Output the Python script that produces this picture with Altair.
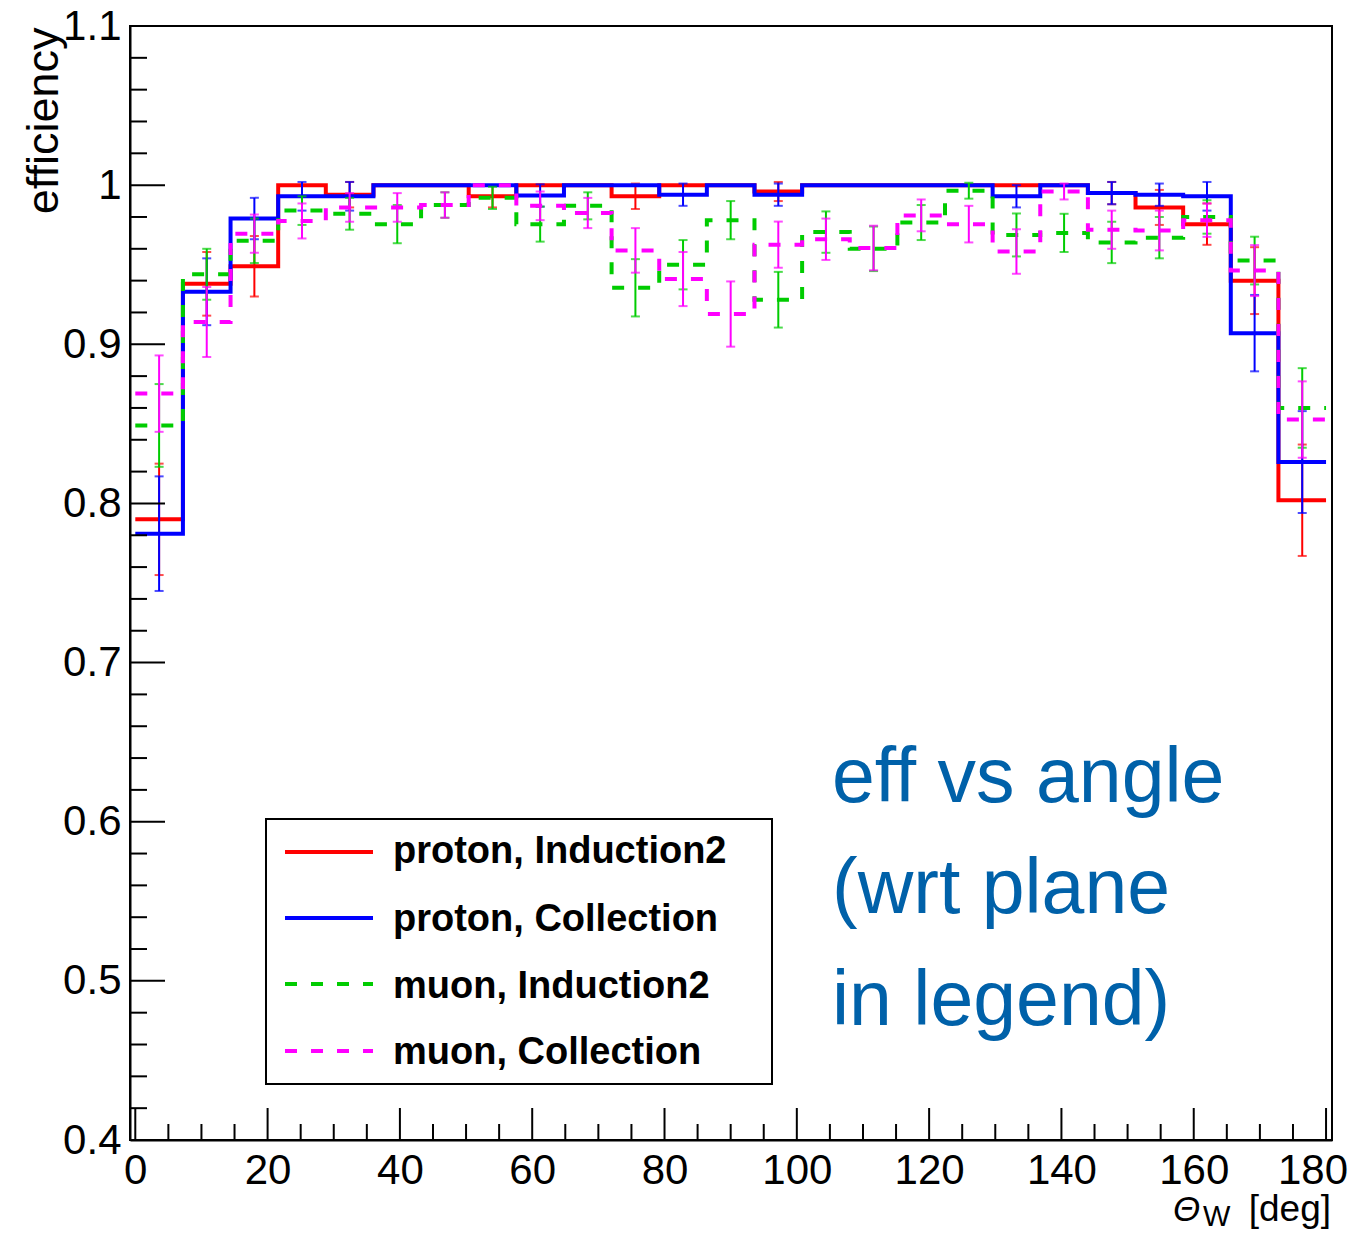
import altair as alt
import numpy as np
import pandas as pd

# ---------------- data ----------------
theta_edges = list(np.linspace(0.0, 180.0, 26))   # 25 bins of 7.2 deg

series_names = ["proton, Induction2", "proton, Collection",
                "muon, Induction2", "muon, Collection"]
series_colors = ["#FF0000", "#0000FF", "#00CC00", "#FF00FF"]

proton_ind2_eff = [0.790, 0.938, 0.949, 1.000, 0.994, 1.000, 1.000, 0.993, 1.000, 1.000,
                   0.993, 1.000, 1.000, 0.996, 1.000, 1.000, 1.000, 1.000, 1.000, 1.000,
                   0.995, 0.986, 0.9755, 0.940, 0.802]
proton_ind2_err = [0.035, 0.020, 0.019, 0.0, 0.008, 0.0, 0.0, 0.007, 0.0, 0.0,
                   0.008, 0.0, 0.0, 0.006, 0.0, 0.0, 0.0, 0.0, 0.0, 0.0,
                   0.007, 0.011, 0.013, 0.021, 0.035]

proton_col_eff = [0.781, 0.933, 0.979, 0.993, 0.993, 1.000, 1.000, 1.000, 0.9935, 1.000,
                  1.000, 0.994, 1.000, 0.994, 1.000, 1.000, 1.000, 1.000, 0.993, 1.000,
                  0.995, 0.994, 0.993, 0.907, 0.826]
proton_col_err = [0.036, 0.021, 0.013, 0.009, 0.009, 0.0, 0.0, 0.0, 0.007, 0.0,
                  0.0, 0.007, 0.0, 0.007, 0.0, 0.0, 0.0, 0.0, 0.007, 0.0,
                  0.007, 0.007, 0.009, 0.024, 0.032]

muon_ind2_eff = [0.849, 0.944, 0.965, 0.984, 0.982, 0.9755, 0.9875, 0.992, 0.9755, 0.987,
                 0.9355, 0.950, 0.978, 0.928, 0.9705, 0.960, 0.9765, 0.9965, 0.9687, 0.970,
                 0.964, 0.967, 0.980, 0.9526, 0.860]
muon_ind2_err = [0.026, 0.016, 0.014, 0.009, 0.010, 0.012, 0.008, 0.007, 0.011, 0.0085,
                 0.018, 0.0155, 0.012, 0.0175, 0.013, 0.014, 0.011, 0.005, 0.0135, 0.012,
                 0.013, 0.013, 0.0105, 0.015, 0.025]

muon_col_eff = [0.869, 0.914, 0.9695, 0.9775, 0.986, 0.986, 0.9875, 1.000, 0.987, 0.9825,
                0.959, 0.941, 0.919, 0.9626, 0.966, 0.9605, 0.981, 0.9755, 0.9583, 0.996,
                0.972, 0.9715, 0.978, 0.9463, 0.8527]
muon_col_err = [0.024, 0.022, 0.012, 0.011, 0.009, 0.009, 0.008, 0.0, 0.009, 0.0095,
                0.014, 0.017, 0.0205, 0.0145, 0.013, 0.014, 0.010, 0.0115, 0.014, 0.005,
                0.012, 0.0125, 0.0105, 0.016, 0.024]

series_eff = [proton_ind2_eff, proton_col_eff, muon_ind2_eff, muon_col_eff]
series_err = [proton_ind2_err, proton_col_err, muon_ind2_err, muon_col_err]
series_dash = [None, None, [12, 14], [12, 14]]

x_tick_labels = [0, 20, 40, 60, 80, 100, 120, 140, 160, 180]
y_tick_labels = [0.4, 0.5, 0.6, 0.7, 0.8, 0.9, 1.0, 1.1]

annotation_lines = ["eff vs angle", "(wrt plane", "in legend)"]

# ---------------- layout constants ----------------
W, H = 1202, 1114
FONT = "Liberation Sans"

x_scale = alt.Scale(domain=[-0.8, 180.9], nice=False, zero=False)
y_scale = alt.Scale(domain=[0.4, 1.1], nice=False, zero=False)

x_axis = alt.Axis(values=x_tick_labels[:-1], format="d", ticks=False, tickSize=0,
                  labelFlush=False, labelFontSize=42, labelPadding=10,
                  labelFont=FONT, labelColor="black", grid=False, title=None,
                  domainColor="black", domainWidth=2, labelOverlap=False)
y_axis = alt.Axis(values=y_tick_labels, format="~g", ticks=False, tickSize=0,
                  labelFontSize=42, labelPadding=9, labelFont=FONT,
                  labelColor="black", grid=False, title="efficiency",
                  titleFont=FONT, titleFontSize=45, titleFontWeight="normal",
                  titleColor="black", titleAngle=270, titleAlign="right",
                  titleBaseline="alphabetic", titleX=-73, titleY=1,
                  domainColor="black", domainWidth=2, labelOverlap=False)

layers = []
centers = [(theta_edges[i] + theta_edges[i + 1]) / 2 for i in range(25)]

for name, color, effs, errs, dash in zip(series_names, series_colors,
                                         series_eff, series_err, series_dash):
    step_rows = []
    for i, v in enumerate(effs):
        step_rows.append({"x": theta_edges[i], "y": v, "o": 2 * i})
        step_rows.append({"x": theta_edges[i + 1], "y": v, "o": 2 * i + 1})
    step_df = pd.DataFrame(step_rows)
    line_kw = dict(color=color, strokeWidth=4)
    if dash is not None:
        line_kw["strokeDash"] = dash
    layers.append(
        alt.Chart(step_df).mark_line(**line_kw).encode(
            x=alt.X("x:Q", scale=x_scale, axis=x_axis),
            y=alt.Y("y:Q", scale=y_scale, axis=y_axis),
            order="o:Q",
        )
    )
    err_df = pd.DataFrame({"c": centers, "v": effs, "e": errs})
    err_df = err_df[err_df["e"] > 0].copy()
    err_df["lo"] = err_df["v"] - err_df["e"]
    err_df["hi"] = err_df["v"] + err_df["e"]
    layers.append(
        alt.Chart(err_df).mark_rule(color=color, strokeWidth=2).encode(
            x=alt.X("c:Q", scale=x_scale, axis=x_axis),
            y=alt.Y("lo:Q", scale=y_scale, axis=y_axis),
            y2="hi:Q",
        )
    )
    cap_df = pd.concat([
        pd.DataFrame({"c": err_df["c"], "cap": err_df["lo"]}),
        pd.DataFrame({"c": err_df["c"], "cap": err_df["hi"]}),
    ])
    layers.append(
        alt.Chart(cap_df).mark_tick(color=color, orient="horizontal",
                                    size=9, thickness=2).encode(
            x=alt.X("c:Q", scale=x_scale, axis=x_axis),
            y=alt.Y("cap:Q", scale=y_scale, axis=y_axis),
        )
    )

# ---------------- inward ROOT-style axis ticks ----------------
yt = pd.DataFrame({"v": [round(0.4 + 0.02 * i, 2) for i in range(36)],
                   "major": [i % 5 == 0 for i in range(36)]})
xt = pd.DataFrame({"v": [5 * i for i in range(37)],
                   "major": [i % 4 == 0 for i in range(37)]})
for major, length in [(True, 35), (False, 17)]:
    layers.append(
        alt.Chart(yt[yt["major"] == major]).mark_rule(color="black", strokeWidth=2).encode(
            y=alt.Y("v:Q", scale=y_scale, axis=y_axis),
            x=alt.value(0), x2=alt.value(length),
        )
    )
for major, length in [(True, 32), (False, 16)]:
    layers.append(
        alt.Chart(xt[xt["major"] == major]).mark_rule(color="black", strokeWidth=2).encode(
            x=alt.X("v:Q", scale=x_scale, axis=x_axis),
            y=alt.value(H), y2=alt.value(H - length),
        )
    )

# last x label (kept inside the page edge, right-aligned like the reference)
layers.append(
    alt.Chart(pd.DataFrame({"v": [x_tick_labels[-1]]})).mark_text(
        align="right", baseline="alphabetic", font=FONT, fontSize=42,
        color="black", dx=22
    ).encode(
        x=alt.X("v:Q", scale=x_scale, axis=x_axis),
        y=alt.value(H + 44),
        text=alt.Text("v:Q", format="d"),
    )
)

# ---------------- legend box ----------------
one = pd.DataFrame({"a": [0]})
layers.append(
    alt.Chart(one).mark_rect(fill="white", stroke="black", strokeWidth=2).encode(
        x=alt.value(136), x2=alt.value(642), y=alt.value(793), y2=alt.value(1058)
    )
)
leg_line_y = [826, 892, 958, 1025]
leg_text_y = [837, 905, 972, 1038]
for name, color, dash, ly, ty in zip(series_names, series_colors, series_dash,
                                     leg_line_y, leg_text_y):
    kw = dict(color=color, strokeWidth=4)
    if dash is not None:
        kw["strokeDash"] = dash
    layers.append(
        alt.Chart(one).mark_rule(**kw).encode(
            x=alt.value(155), x2=alt.value(243), y=alt.value(ly)
        )
    )
    layers.append(
        alt.Chart(pd.DataFrame({"t": [name]})).mark_text(
            align="left", baseline="alphabetic", font=FONT, fontSize=38,
            fontWeight="bold", color="black"
        ).encode(x=alt.value(263), y=alt.value(ty), text="t:N")
    )

# ---------------- annotation ----------------
for txt, by in zip(annotation_lines, [776, 887, 999]):
    layers.append(
        alt.Chart(pd.DataFrame({"t": [txt]})).mark_text(
            align="left", baseline="alphabetic", font=FONT, fontSize=77,
            color="#0061A9"
        ).encode(x=alt.value(702), y=alt.value(by), text="t:N")
    )

# ---------------- x axis title: Theta_W [deg] ----------------
layers.append(
    alt.Chart(pd.DataFrame({"t": ["Θ"]})).mark_text(
        align="left", baseline="alphabetic", font=FONT, fontSize=35,
        fontStyle="italic", color="black"
    ).encode(x=alt.value(1043), y=alt.value(1195), text="t:N")
)
layers.append(
    alt.Chart(pd.DataFrame({"t": ["W"]})).mark_text(
        align="left", baseline="alphabetic", font=FONT, fontSize=29, color="black"
    ).encode(x=alt.value(1073), y=alt.value(1200), text="t:N")
)
layers.append(
    alt.Chart(pd.DataFrame({"t": ["[deg]"]})).mark_text(
        align="right", baseline="alphabetic", font=FONT, fontSize=37, color="black"
    ).encode(x=alt.value(1201), y=alt.value(1195), text="t:N")
)

chart = alt.layer(*layers).properties(
    width=W, height=H,
    autosize=alt.AutoSizeParams(type="none"),
    padding={"left": 122, "top": 18, "right": 18, "bottom": 92},
    background="white",
).configure_view(stroke="black", strokeWidth=2)

chart.save("out.html", embed_options={"renderer": "svg", "actions": False})
